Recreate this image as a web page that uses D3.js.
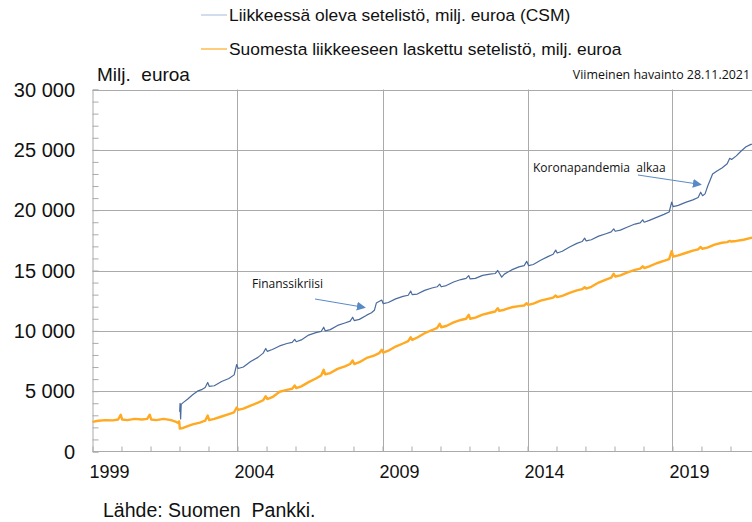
<!DOCTYPE html>
<html>
<head>
<meta charset="utf-8">
<script src="https://cdn.jsdelivr.net/npm/d3@7"></script>
<style>
  body { margin: 0; background: #fff; }
  svg { display: block; }
  text { font-family: "Liberation Sans", Arial, sans-serif; fill: #111; white-space: pre; }
</style>
</head>
<body>
<div id="chart"></div>
<script>
// Liikkeessä oleva setelistö (CSM), milj. euroa
var csm = [
  ["2002-01-03", 3300], ["2002-01-08", 4000], ["2002-01-15", 2700], ["2002-01-22", 3900],
  ["2002-02-15", 4050], ["2002-04-15", 4350], ["2002-06-15", 4700], ["2002-08-15", 5000],
  ["2002-10-15", 5150], ["2002-11-20", 5300], ["2002-12-22", 5720],
  ["2003-01-10", 5400], ["2003-03-15", 5450], ["2003-06-15", 5800], ["2003-09-15", 6050], ["2003-11-20", 6350], ["2003-12-22", 7210],
  ["2004-01-10", 6880], ["2004-03-15", 7000], ["2004-06-15", 7450], ["2004-09-15", 7800], ["2004-11-20", 8150], ["2004-12-22", 8540],
  ["2005-01-10", 8300], ["2005-03-15", 8450], ["2005-06-15", 8750], ["2005-09-15", 8950], ["2005-11-20", 9050], ["2005-12-22", 9300],
  ["2006-01-10", 9100], ["2006-03-15", 9250], ["2006-06-15", 9650], ["2006-09-15", 9850], ["2006-11-20", 9950], ["2006-12-22", 10300],
  ["2007-01-10", 10000], ["2007-03-15", 10100], ["2007-06-15", 10450], ["2007-09-15", 10650], ["2007-11-20", 10800], ["2007-12-22", 11130],
  ["2008-01-10", 10850], ["2008-03-15", 10950], ["2008-06-15", 11300], ["2008-08-15", 11500], ["2008-09-20", 11700], ["2008-10-15", 12300], ["2008-12-22", 12550],
  ["2009-01-10", 12250], ["2009-03-15", 12350], ["2009-06-15", 12650], ["2009-09-15", 12850], ["2009-11-20", 12950], ["2009-12-22", 13290],
  ["2010-01-10", 13000], ["2010-03-15", 13050], ["2010-06-15", 13350], ["2010-09-15", 13550], ["2010-11-20", 13650], ["2010-12-22", 13870],
  ["2011-01-10", 13650], ["2011-03-15", 13750], ["2011-06-15", 14050], ["2011-09-15", 14250], ["2011-11-20", 14350], ["2011-12-22", 14580],
  ["2012-01-10", 14300], ["2012-03-15", 14350], ["2012-06-15", 14600], ["2012-09-15", 14700], ["2012-11-20", 14750], ["2012-12-22", 15000],
  ["2013-02-10", 14450], ["2013-03-15", 14700], ["2013-06-15", 15050], ["2013-09-15", 15300], ["2013-11-20", 15400], ["2013-12-22", 15760],
  ["2014-01-15", 15400], ["2014-03-15", 15500], ["2014-06-15", 15850], ["2014-09-15", 16150], ["2014-11-20", 16350], ["2014-12-22", 16690],
  ["2015-01-10", 16450], ["2015-03-15", 16600], ["2015-06-15", 16950], ["2015-09-15", 17250], ["2015-11-20", 17400], ["2015-12-22", 17680],
  ["2016-01-10", 17450], ["2016-03-15", 17550], ["2016-06-15", 17850], ["2016-09-15", 18050], ["2016-11-20", 18200], ["2016-12-22", 18450],
  ["2017-01-10", 18250], ["2017-03-15", 18350], ["2017-06-15", 18600], ["2017-09-15", 18850], ["2017-11-20", 18950], ["2017-12-22", 19200],
  ["2018-01-10", 19000], ["2018-03-15", 19150], ["2018-06-15", 19400], ["2018-09-15", 19650], ["2018-11-20", 19850], ["2018-12-22", 20660],
  ["2019-01-10", 20300], ["2019-03-15", 20400], ["2019-06-15", 20650], ["2019-09-15", 20850], ["2019-11-20", 21050], ["2019-12-22", 21490],
  ["2020-01-15", 21200], ["2020-02-15", 21350], ["2020-03-20", 22000], ["2020-04-20", 22500], ["2020-05-20", 23000], ["2020-07-15", 23250],
  ["2020-09-15", 23500], ["2020-11-20", 23850], ["2020-12-22", 24300],
  ["2021-01-15", 24200], ["2021-03-15", 24500], ["2021-05-15", 24900], ["2021-07-15", 25250], ["2021-09-15", 25450], ["2021-11-28", 25600]
];

// Suomesta liikkeeseen laskettu setelistö, milj. euroa
var finland = [
  ["1999-01-01", 2450], ["1999-03-15", 2550], ["1999-06-15", 2600], ["1999-09-15", 2580], ["1999-11-20", 2650], ["1999-12-22", 3050],
  ["2000-01-10", 2650], ["2000-03-15", 2600], ["2000-06-15", 2700], ["2000-09-15", 2650], ["2000-11-20", 2700], ["2000-12-22", 3050],
  ["2001-01-10", 2650], ["2001-03-15", 2600], ["2001-06-15", 2700], ["2001-09-15", 2600], ["2001-11-20", 2450], ["2001-12-20", 2350],
  ["2001-12-28", 2500], ["2002-01-05", 1900],
  ["2002-02-15", 1950], ["2002-04-15", 2100], ["2002-06-15", 2250], ["2002-09-15", 2400], ["2002-11-20", 2550], ["2002-12-22", 2980],
  ["2003-01-10", 2600], ["2003-03-15", 2700], ["2003-06-15", 2900], ["2003-09-15", 3100], ["2003-11-20", 3250], ["2003-12-22", 3650],
  ["2004-01-10", 3450], ["2004-03-15", 3550], ["2004-06-15", 3800], ["2004-09-15", 4050], ["2004-11-20", 4250], ["2004-12-22", 4580],
  ["2005-01-10", 4350], ["2005-03-15", 4500], ["2005-06-15", 4950], ["2005-09-15", 5100], ["2005-11-20", 5200], ["2005-12-22", 5470],
  ["2006-01-10", 5250], ["2006-03-15", 5400], ["2006-06-15", 5750], ["2006-09-15", 6050], ["2006-11-20", 6300], ["2006-12-22", 6770],
  ["2007-01-10", 6400], ["2007-03-15", 6500], ["2007-06-15", 6850], ["2007-09-15", 7050], ["2007-11-20", 7250], ["2007-12-22", 7540],
  ["2008-01-10", 7250], ["2008-03-15", 7400], ["2008-06-15", 7750], ["2008-09-15", 7950], ["2008-11-20", 8150], ["2008-12-22", 8430],
  ["2009-01-10", 8200], ["2009-03-15", 8350], ["2009-06-15", 8700], ["2009-09-15", 8950], ["2009-11-20", 9150], ["2009-12-22", 9470],
  ["2010-01-10", 9250], ["2010-03-15", 9450], ["2010-06-15", 9800], ["2010-09-15", 10050], ["2010-11-20", 10250], ["2010-12-22", 10580],
  ["2011-01-10", 10300], ["2011-03-15", 10400], ["2011-06-15", 10700], ["2011-09-15", 10900], ["2011-11-20", 11000], ["2011-12-22", 11330],
  ["2012-01-10", 11000], ["2012-03-15", 11100], ["2012-06-15", 11350], ["2012-09-15", 11500], ["2012-11-20", 11600], ["2012-12-22", 11880],
  ["2013-01-10", 11650], ["2013-03-15", 11750], ["2013-06-15", 11950], ["2013-09-15", 12050], ["2013-11-20", 12100], ["2013-12-22", 12290],
  ["2014-01-10", 12150], ["2014-03-15", 12250], ["2014-06-15", 12500], ["2014-09-15", 12650], ["2014-11-20", 12750], ["2014-12-22", 12930],
  ["2015-01-10", 12800], ["2015-03-15", 12900], ["2015-06-15", 13150], ["2015-09-15", 13350], ["2015-11-20", 13450], ["2015-12-22", 13620],
  ["2016-01-10", 13500], ["2016-03-15", 13650], ["2016-06-15", 14000], ["2016-09-15", 14250], ["2016-11-20", 14400], ["2016-12-22", 14730],
  ["2017-01-10", 14500], ["2017-03-15", 14600], ["2017-06-15", 14850], ["2017-09-15", 15050], ["2017-11-20", 15150], ["2017-12-22", 15350],
  ["2018-01-10", 15200], ["2018-03-15", 15350], ["2018-06-15", 15600], ["2018-09-15", 15800], ["2018-11-20", 15950], ["2018-12-22", 16600],
  ["2019-01-10", 16150], ["2019-03-15", 16250], ["2019-06-15", 16450], ["2019-09-15", 16650], ["2019-11-20", 16750], ["2019-12-22", 16950],
  ["2020-01-10", 16800], ["2020-03-15", 16900], ["2020-06-15", 17150], ["2020-09-15", 17300], ["2020-11-20", 17350], ["2020-12-22", 17450],
  ["2021-01-10", 17400], ["2021-03-15", 17450], ["2021-06-15", 17550], ["2021-09-15", 17700], ["2021-11-28", 17780]
];

var yTicks = [0, 5000, 10000, 15000, 20000, 25000, 30000];
var yearLabels = [1999, 2004, 2009, 2014, 2019];
var gridYears = [2004, 2009, 2014, 2019];

var legendNames = [
  "Liikkeessä oleva setelistö, milj. euroa (CSM)",
  "Suomesta liikkeeseen laskettu setelistö, milj. euroa"
];

var width = 752, height = 522;
var parse = d3.timeParse("%Y-%m-%d");

var svg = d3.select("#chart").append("svg")
  .attr("width", width)
  .attr("height", height);

var x = d3.scaleTime()
  .domain([new Date(1999, 0, 1), new Date(2022, 0, 1)])
  .range([92.5, 759.5]);

var y = d3.scaleLinear()
  .domain([0, 30000])
  .range([451.5, 89.5]);

var grey = "#aaaaaa";

// horizontal grid lines
svg.append("g").selectAll("line")
  .data(yTicks.filter(d => d > 0))
  .enter().append("line")
  .attr("x1", x.range()[0]).attr("x2", width)
  .attr("y1", d => Math.round(y(d)) + 0.5).attr("y2", d => Math.round(y(d)) + 0.5)
  .attr("stroke", grey).attr("stroke-width", 1);

// vertical grid lines
svg.append("g").selectAll("line")
  .data(gridYears)
  .enter().append("line")
  .attr("x1", d => Math.round(x(new Date(d, 0, 1))) + 0.5)
  .attr("x2", d => Math.round(x(new Date(d, 0, 1))) + 0.5)
  .attr("y1", y(30000)).attr("y2", y(0))
  .attr("stroke", grey).attr("stroke-width", 1);

// axes: small inside ticks, labels drawn separately
var yAxis = svg.append("g")
  .attr("transform", "translate(" + x.range()[0] + ",0)")
  .call(d3.axisRight(y).tickValues(d3.range(0, 30001, 1000)).tickSize(6).tickFormat(""));
var xAxis = svg.append("g")
  .attr("transform", "translate(0," + y(0) + ")")
  .call(d3.axisTop(x).ticks(d3.timeYear.every(1)).tickSize(5).tickFormat(""));
[yAxis, xAxis].forEach(function (a) {
  a.select(".domain").attr("stroke", grey);
  a.selectAll(".tick line").attr("stroke", grey);
});
xAxis.select(".domain").attr("d", "M" + x.range()[0] + ",0H" + width);

// y labels
svg.append("g").selectAll("text")
  .data(yTicks)
  .enter().append("text")
  .attr("x", 75)
  .attr("y", d => y(d))
  .attr("dy", "0.36em")
  .attr("text-anchor", "end")
  .style("font-size", "20px")
  .text(d => d3.format(",")(d).replace(/,/g, " "));

// x labels, centred in the year
svg.append("g").selectAll("text")
  .data(yearLabels)
  .enter().append("text")
  .attr("x", d => x(new Date(d, 0, 1)) + 17)
  .attr("y", 478)
  .attr("text-anchor", "middle")
  .style("font-size", "18px")
  .text(d => d);

// series
var line = d3.line()
  .x(d => x(parse(d[0])))
  .y(d => y(d[1]));

svg.append("path")
  .datum(finland)
  .attr("d", line)
  .attr("fill", "none")
  .attr("stroke", "#ffaa22")
  .attr("stroke-width", 2.4)
  .attr("stroke-linejoin", "round");

svg.append("path")
  .datum(csm)
  .attr("d", line)
  .attr("fill", "none")
  .attr("stroke", "#4a6b9e")
  .attr("stroke-width", 1.2)
  .attr("stroke-linejoin", "round");

// legend
var legendColors = ["#b3c6e0", "#ffaa22"];
var legend = svg.append("g").selectAll("g")
  .data(legendNames)
  .enter().append("g")
  .attr("transform", (d, i) => "translate(0," + (15 + i * 34) + ")");
legend.append("line")
  .attr("x1", 201).attr("x2", 227)
  .attr("stroke", (d, i) => legendColors[i])
  .attr("stroke-width", 1.2);
legend.append("text")
  .attr("x", 229)
  .attr("dy", "0.36em")
  .style("font-size", "17.4px")
  .text(d => d);

// titles and notes
svg.append("text")
  .attr("x", 97).attr("y", 81)
  .style("font-size", "19px")
  .text("Milj.  euroa");

svg.append("text")
  .attr("x", 750).attr("y", 79)
  .attr("text-anchor", "end")
  .style("font-family", "'Open Sans', sans-serif")
  .style("font-size", "12.4px")
  .text("Viimeinen havainto 28.11.2021");

svg.append("text")
  .attr("x", 103).attr("y", 517)
  .style("font-size", "19.5px")
  .text("Lähde: Suomen  Pankki.");

// annotations with arrows
var arrowColor = "#5a8ac6";
svg.append("defs").append("marker")
  .attr("id", "arrow")
  .attr("viewBox", "0 0 10 10")
  .attr("refX", 9).attr("refY", 5)
  .attr("markerWidth", 9).attr("markerHeight", 9)
  .attr("markerUnits", "userSpaceOnUse")
  .attr("orient", "auto")
  .append("path")
  .attr("d", "M0,0L10,5L0,10Z")
  .attr("fill", arrowColor);

var notes = [
  { text: "Finanssikriisi", tx: 252, ty: 288, x1: 315, y1: 299, x2: 365, y2: 307.5 },
  { text: "Koronapandemia  alkaa", tx: 533, ty: 172, x1: 638, y1: 175, x2: 701, y2: 184.5 }
];
notes.forEach(function (n) {
  svg.append("text")
    .attr("x", n.tx).attr("y", n.ty)
    .style("font-family", "'Open Sans', sans-serif")
    .style("font-size", "12px")
    .text(n.text);
  svg.append("line")
    .attr("x1", n.x1).attr("y1", n.y1)
    .attr("x2", n.x2).attr("y2", n.y2)
    .attr("stroke", arrowColor)
    .attr("stroke-width", 1)
    .attr("marker-end", "url(#arrow)");
});
</script>
</body>
</html>
